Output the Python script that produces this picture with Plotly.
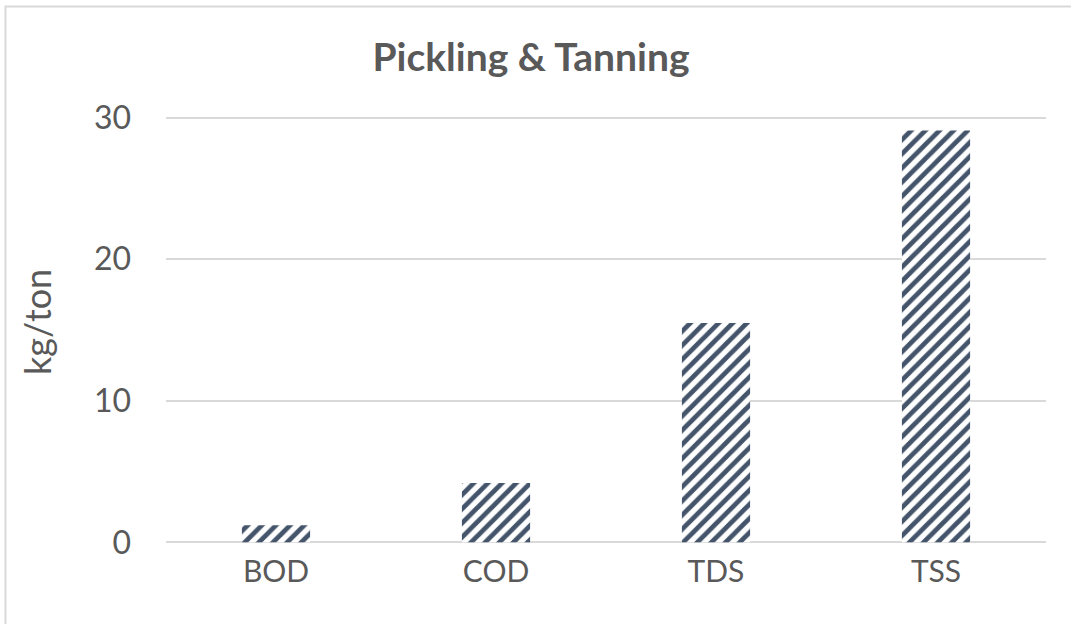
import plotly.graph_objects as go

categories = ["BOD", "COD", "TDS", "TSS"]
values = [1.2, 4.2, 15.5, 29.1]
y_ticks = [0, 10, 20, 30]

W, H = 1071, 624
L, R = 166, 25
Y0_PX, Y30_PX = 542, 118          # pixel rows of 0 and 30
pad = 0.4                          # range padding in data units so edge gridlines show
upu = (Y0_PX - Y30_PX) / 30.0      # pixels per unit
T = Y30_PX - pad * upu
B = H - Y0_PX - pad * upu
pw = W - L - R
ph = H - T - B

def px_x(x):
    return (x - L) / pw

def px_y(y):
    return (H - B - y) / ph

fig = go.Figure(go.Bar(
    x=categories, y=values, width=0.31,
    marker=dict(color="white", line=dict(width=0),
                pattern=dict(shape="/", fgcolor="#44546A", bgcolor="white",
                             size=10, solidity=0.48, fillmode="replace")),
))

fig.update_layout(
    width=W, height=H,
    margin=dict(l=L, r=R, t=T, b=B, autoexpand=False),
    paper_bgcolor="white", plot_bgcolor="white",
    font=dict(family="Lato", color="#595959", size=32),
    showlegend=False,
    title=dict(text="<b>Pickling & Tanning</b>", x=px_x(531), xref="paper", xanchor="center",
               y=1 - 57 / H, yref="container", yanchor="middle",
               font=dict(family="Lato", size=39, color="#595959")),
    xaxis=dict(showgrid=False, showline=False, zeroline=False, ticks="",
               ticklabelstandoff=3, tickfont=dict(size=30)),
    yaxis=dict(range=[-pad, 30 + pad], tickvals=y_ticks, showgrid=True, gridcolor="#D9D9D9", gridwidth=1.5,
               zeroline=False, showline=False, ticks="", ticklabelstandoff=34,
               tickfont=dict(size=32)),
    annotations=[dict(text="kg/ton", x=px_x(37), y=px_y(322), xref="paper", yref="paper",
                      textangle=-90, showarrow=False, xanchor="center", yanchor="middle",
                      font=dict(size=36, color="#595959"))],
    shapes=[dict(type="rect", xref="paper", yref="paper",
                 x0=px_x(5.5), x1=px_x(W + 20), y0=px_y(H + 20), y1=px_y(7),
                 line=dict(color="#D9D9D9", width=2), layer="below")],
)

fig.write_html("out.html")
